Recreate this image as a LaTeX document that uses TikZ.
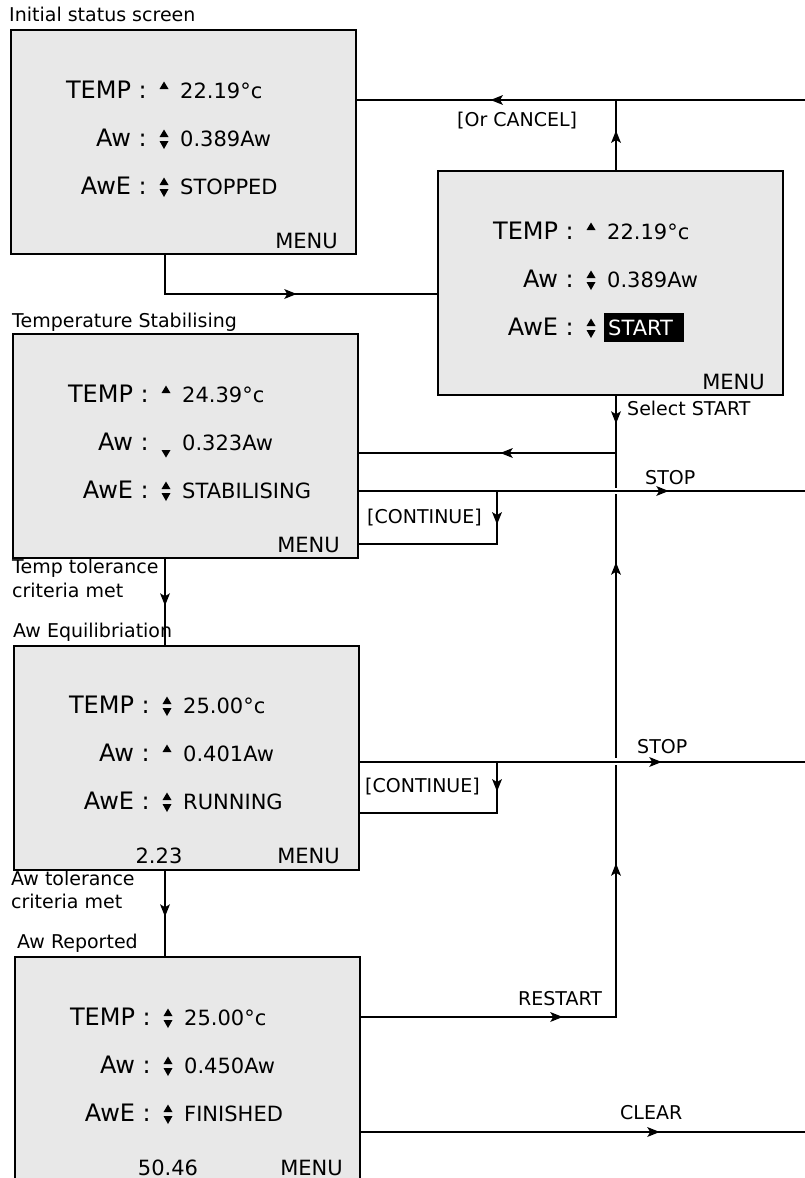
\documentclass[tikz,border=0pt]{standalone}
\usepackage{fontspec}
\setmainfont{DejaVu Sans}
\usetikzlibrary{decorations.markings}
\definecolor{scrgray}{RGB}{232,232,232}
\tikzset{
  screen/.style={draw=black, line width=2.2pt, fill=scrgray, minimum width=345pt,
    minimum height=224pt, anchor=north west, inner sep=0pt},
  lab/.style={font=\fontsize{24}{28}\selectfont, inner sep=0pt, anchor=base east},
  val/.style={font=\fontsize{21}{25}\selectfont, inner sep=0pt, anchor=base west},
  small/.style={font=\fontsize{19}{23}\selectfont, inner sep=0pt, anchor=base west},
  conn/.style={line width=1.3pt},
  arrat/.style={postaction={decorate, decoration={markings,
    mark=at position #1 with {\fill[black] (1.5pt,0pt) -- (-11pt,5pt) -- (-8pt,0pt) -- (-11pt,-5pt) -- cycle;}}}},
}
\newcommand\iup[1]{\fill (149.5,#1-9) -- (158.5,#1-9) -- (154,#1-16.5) -- cycle;}
\newcommand\idn[1]{\fill (149.5,#1-5) -- (158.5,#1-5) -- (154,#1+3) -- cycle;}
\newcommand\iud[1]{\iup{#1}\idn{#1}}
\newcommand\idnlow[1]{\fill (149.5,#1) -- (158.5,#1) -- (154,#1+7.5) -- cycle;}
\newcommand\scrrow[5]{%
  \node[lab] (#1l) at (137,#2) {#3 :};
  #4{#2}
  \node[val] (#1v) at (170,#2) {#5};}
\begin{document}
\begin{tikzpicture}[x=1pt,y=-1pt]
\useasboundingbox (0,0) rectangle (805,1178);
% screens
\node[screen] (b1) at (10,29) {};
\node[screen] (b2) at (437,170) {};
\node[screen] (b3) at (12,333) {};
\node[screen] (b4) at (13,645) {};
\node[screen] (b5) at (14,956) {};
% box 1
\begin{scope}[shift={(10,29)}]
  \scrrow{b1a}{69}{TEMP}{\iup}{22.19°c}
  \scrrow{b1b}{117}{Aw}{\iud}{0.389Aw}
  \scrrow{b1c}{165}{AwE}{\iud}{STOPPED}
  \node[val, anchor=base east] (b1m) at (328,219) {MENU};
\end{scope}
% box 2
\begin{scope}[shift={(437,170)}]
  \scrrow{b2a}{69}{TEMP}{\iup}{22.19°c}
  \scrrow{b2b}{117}{Aw}{\iud}{0.389Aw}
  \node[lab] (b2cl) at (137,165) {AwE :};
  \iud{165}
  \fill[black] (167,143) rectangle (247,172);
  \node[val, text=white] (b2cv) at (171,165) {START};
  \node[val, anchor=base east] (b2m) at (328,219) {MENU};
\end{scope}
% box 3
\begin{scope}[shift={(12,333)}]
  \scrrow{b3a}{69}{TEMP}{\iup}{24.39°c}
  \scrrow{b3b}{117}{Aw}{\idnlow}{0.323Aw}
  \scrrow{b3c}{165}{AwE}{\iud}{STABILISING}
  \node[val, anchor=base east] (b3m) at (328,219) {MENU};
\end{scope}
% box 4
\begin{scope}[shift={(13,645)}]
  \scrrow{b4a}{68}{TEMP}{\iud}{25.00°c}
  \scrrow{b4b}{116}{Aw}{\iup}{0.401Aw}
  \scrrow{b4c}{164}{AwE}{\iud}{RUNNING}
  \node[val, anchor=base] (b4n) at (146,218) {2.23};
  \node[val, anchor=base east] (b4m) at (327,218) {MENU};
\end{scope}
% box 5
\begin{scope}[shift={(14,956)}]
  \scrrow{b5a}{69}{TEMP}{\iud}{25.00°c}
  \scrrow{b5b}{117}{Aw}{\iud}{0.450Aw}
  \scrrow{b5c}{165}{AwE}{\iud}{FINISHED}
  \node[val, anchor=base] (b5n) at (154,219) {50.46};
  \node[val, anchor=base east] (b5m) at (329,219) {MENU};
\end{scope}
% titles and labels
\node[small] (t1) at (9,21) {Initial status screen};
\node[small] (t2) at (12,327) {Temperature Stabilising};
\node[small] (t3) at (12,573) {Temp tolerance};
\node[small] (t3b) at (12,597) {criteria met};
\node[small] (t4) at (13,637) {Aw Equilibriation};
\node[small] (t5) at (11,885) {Aw tolerance};
\node[small] (t5b) at (11,908) {criteria met};
\node[small] (t6) at (17,948) {Aw Reported};
\node[small] (l1) at (457,126) {[Or CANCEL]};
\node[small] (l2) at (627,415) {Select START};
\node[small] (l3) at (645,484) {STOP};
\node[small] (l4) at (367,523) {[CONTINUE]};
\node[small] (l5) at (637,753) {STOP};
\node[small] (l6) at (365,792) {[CONTINUE]};
\node[small] (l7) at (518,1005) {RESTART};
\node[small] (l8) at (620,1119) {CLEAR};
% guide coordinates
\coordinate (x165) at (165,0);
\coordinate (x616) at (616,0);
\coordinate (c1) at (165,294);
\coordinate (j1) at (616,100);
\coordinate (r1) at (805,100);
\coordinate (j2) at (616,453);
\coordinate (r5) at (616,1017);
\coordinate (s1) at (805,491);
\coordinate (k1) at (497,491);
\coordinate (k1b) at (497,544);
\coordinate (s2) at (805,762);
\coordinate (k2) at (497,762);
\coordinate (k2b) at (497,813);
\coordinate (s3) at (805,1132);
% connectors
\draw[conn, arrat=169pt] (x165 |- b1.south) -- (c1) -- (b2.west |- c1);
\draw[conn, arrat=38pt, arrat=194pt] (x616 |- b2.north) -- (j1) -- (b1.east |- j1);
\draw[conn] (r1) -- (j1);
\draw[conn, arrat=26pt, arrat=171pt] (x616 |- b2.south) -- (j2) -- (b3.east |- j2);
\draw[conn, arrat=200pt, arrat=407pt, arrat=708pt] (b5.east |- r5) -- (r5) -- (j2);
\fill[white] (611,488) rectangle (621,494);
\fill[white] (611,758) rectangle (621,765);
\draw[conn, arrat=308pt] (b3.east |- s1) -- (s1);
\draw[conn, arrat=32pt] (k1) -- (k1b) -- (b3.east |- k1b);
\draw[conn, arrat=45pt] (x165 |- b3.south) -- (x165 |- b4.north);
\draw[conn, arrat=300pt] (b4.east |- s2) -- (s2);
\draw[conn, arrat=28pt] (k2) -- (k2b) -- (b4.east |- k2b);
\draw[conn, arrat=44pt] (x165 |- b4.south) -- (x165 |- b5.north);
\draw[conn, arrat=297pt] (b5.east |- s3) -- (s3);
\end{tikzpicture}
\end{document}
